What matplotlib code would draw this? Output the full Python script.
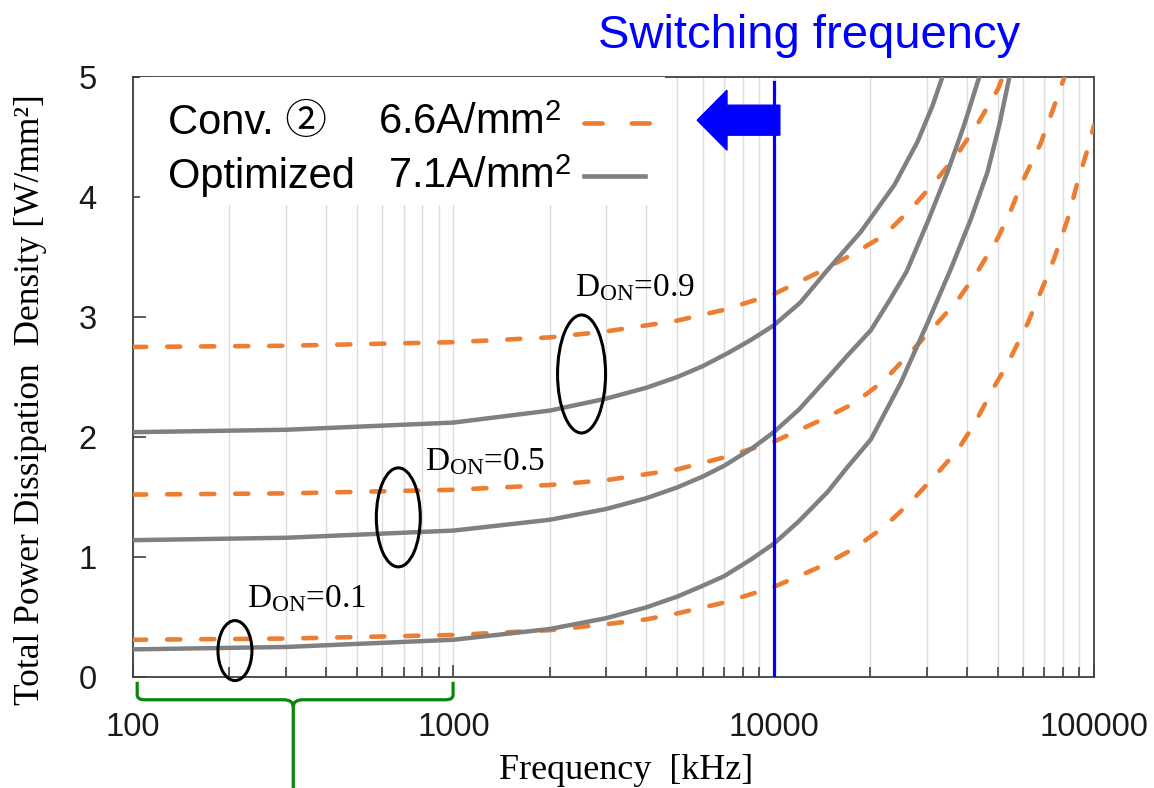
import numpy as np
import matplotlib
matplotlib.use('Agg')
import matplotlib.pyplot as plt
from matplotlib.patches import Ellipse, FancyArrow, PathPatch, Rectangle
from matplotlib.path import Path
from matplotlib.lines import Line2D
from matplotlib.ticker import FixedLocator, LogLocator, NullFormatter

plt.rcParams['font.family'] = ['Liberation Sans', 'Noto Sans CJK JP', 'DejaVu Sans']
plt.rcParams['mathtext.fontset'] = 'custom'
plt.rcParams['mathtext.rm'] = 'Liberation Serif'
plt.rcParams['mathtext.it'] = 'Liberation Serif:italic'
plt.rcParams['mathtext.sf'] = 'Liberation Sans'
plt.rcParams['lines.scale_dashes'] = False

# frequency [kHz] / power density [W/mm2], conventional design
conv_09_f = [100, 300, 1000, 2000, 3000, 4000, 5000, 7000, 10000, 14000, 17800,
             22100, 26800, 31700, 37500, 43300, 50100, 51900]
conv_09_p = [2.75, 2.76, 2.79, 2.83, 2.88, 2.93, 2.97, 3.06, 3.19, 3.38, 3.53,
             3.68, 3.90, 4.12, 4.36, 4.61, 4.90, 5.00]
conv_05_f = [100, 300, 1000, 2000, 3000, 4000, 5000, 7000, 10000, 14000, 17800, 22100,
             26200, 31700, 37500, 43300, 50100, 55000, 59100, 68200, 75100, 80800]
conv_05_p = [1.52, 1.53, 1.56, 1.60, 1.64, 1.69, 1.73, 1.83, 1.96, 2.14, 2.28, 2.47,
             2.68, 2.92, 3.14, 3.38, 3.66, 3.89, 4.10, 4.45, 4.76, 5.00]
conv_01_f = [100, 300, 1000, 2000, 3000, 4000, 5000, 7000, 10000, 14000, 17800, 22100,
             26800, 31700, 37500, 42300, 48800, 53700, 62100, 69900, 75100, 82800,
             88900, 95500, 100000]
conv_01_p = [0.31, 0.32, 0.35, 0.39, 0.44, 0.48, 0.53, 0.62, 0.75, 0.92, 1.07, 1.25,
             1.46, 1.67, 1.89, 2.11, 2.42, 2.61, 2.95, 3.28, 3.49, 3.82,
             4.13, 4.40, 4.60]

# optimized design
opt_09_f = [100, 300, 1000, 2000, 3000, 4000, 5000, 6000, 7200, 8500, 10000, 12100,
            14700, 18700, 23800, 28100, 31300, 33600]
opt_09_p = [2.04, 2.06, 2.12, 2.22, 2.32, 2.41, 2.50, 2.59, 2.70, 2.81, 2.93, 3.12,
            3.39, 3.71, 4.10, 4.46, 4.76, 5.00]
opt_05_f = [100, 300, 1000, 2000, 3000, 4000, 5000, 6000, 7000, 8500, 10000, 12000,
            14700, 17000, 20100, 23000, 26000, 30200, 34900, 39300, 43800]
opt_05_p = [1.14, 1.16, 1.22, 1.31, 1.40, 1.49, 1.58, 1.67, 1.76, 1.90, 2.04, 2.23,
            2.49, 2.68, 2.89, 3.14, 3.38, 3.79, 4.21, 4.60, 5.00]
opt_01_f = [100, 300, 1000, 2000, 3000, 4000, 5000, 6000, 7000, 8500, 10000, 12000,
            14700, 17000, 20100, 24900, 30200, 35700, 41300, 46500, 50600, 54400]
opt_01_p = [0.23, 0.25, 0.31, 0.40, 0.49, 0.58, 0.67, 0.76, 0.84, 0.98, 1.11, 1.30,
            1.54, 1.75, 1.98, 2.45, 2.95, 3.40, 3.82, 4.21, 4.60, 5.00]

duty_labels = ['0.9', '0.5', '0.1']
label_f = [2400, 816, 227]
label_p = [3.17, 1.725, 0.583]
ring_f = [2512, 673, 208]
ring_p = [2.525, 1.33, 0.22]
ring_w = [48, 44, 34]      # px
ring_h = [118, 99, 60]     # px

f_switch = 10000
xticks = [100, 1000, 10000, 100000]
yticks = [0, 1, 2, 3, 4, 5]

orange = '#ED7D31'
gray = '#808080'
blue = '#0000FF'
serif = 'Liberation Serif'

fig = plt.figure(figsize=(11.54, 7.88), dpi=100)
ax = fig.add_axes([0.1153, 0.1409, 0.8328, 0.7614])
ax.set_xscale('log')
ax.set_xlim(100, 100000)
ax.set_ylim(0, 5)

dash = (9.5, 15)
for f, p in [(conv_09_f, conv_09_p), (conv_05_f, conv_05_p), (conv_01_f, conv_01_p)]:
    ax.plot(f, p, color=orange, lw=3.3, dashes=dash, dash_capstyle='round', zorder=3)
for f, p in [(opt_09_f, opt_09_p), (opt_05_f, opt_05_p), (opt_01_f, opt_01_p)]:
    ax.plot(f, p, color=gray, lw=3.2, zorder=3)

# switching frequency marker
ax.axvline(f_switch, ymin=0, ymax=0.992, color=blue, lw=2.3, zorder=4)
ax.add_patch(FancyArrow(0.673, 0.928, -0.086, 0, width=0.05, head_width=0.10,
                        head_length=0.031, length_includes_head=True,
                        color=blue, transform=ax.transAxes, zorder=8))
fig.text(0.7015, 0.939, 'Switching frequency', color=blue, fontsize=34,
         ha='center', va='baseline')

# duty-cycle groups
for i in range(3):
    cx = (np.log10(ring_f[i]) - 2) / 3
    cy = ring_p[i] / 5
    ax.add_patch(Ellipse((cx, cy), ring_w[i] / 961, ring_h[i] / 600, fill=False,
                         ec='black', lw=2.2, transform=ax.transAxes, clip_on=False, zorder=5))
    ax.text(label_f[i], label_p[i], r'$\mathrm{D_{ON}}$=' + duty_labels[i],
            family=serif, fontsize=24, ha='left', va='baseline', zorder=5)

# axes styling
ax.xaxis.set_major_locator(FixedLocator(xticks))
ax.set_xticklabels([str(t) for t in xticks])
ax.xaxis.set_minor_locator(LogLocator(base=10, subs=np.arange(2, 10)))
ax.xaxis.set_minor_formatter(NullFormatter())
ax.set_yticks(yticks)
ax.tick_params(axis='both', which='major', direction='in', length=9, width=1.2,
               color='#404040', labelsize=23.5, labelcolor='#1a1a1a')
ax.tick_params(axis='x', which='major', pad=25)
ax.tick_params(axis='y', which='major', pad=26)
ax.tick_params(axis='x', which='minor', direction='in', length=7, width=1.2, color='#404040')
ax.xaxis.grid(True, which='both', color='#dcdcdc', lw=1.0)
ax.set_axisbelow(True)
for s in ax.spines.values():
    s.set_color('#404040')
    s.set_linewidth(1.3)

ax.set_xlabel('Frequency  [kHz]', family=serif, fontsize=26)
ax.xaxis.set_label_coords(0.513, -0.128)
ax.set_ylabel('Total Power Dissipation  Density [W/mm²]', family=serif, fontsize=25.5)
ax.yaxis.set_label_coords(-0.090, 0.462)

# bracket under the 100-1000 kHz decade
xl, xc, xr = 0.0043, 0.1667, 0.333
yt, yh, yb = -0.008, -0.038, -0.19
verts = [(xl, yt), (xl, yh + 0.008), (xl, yh), (xl + 0.008, yh), (xc - 0.01, yh),
         (xc, yh), (xc, yh - 0.012), (xc, yb),
         (xc, yh - 0.012), (xc, yh), (xc + 0.01, yh), (xr - 0.008, yh),
         (xr, yh), (xr, yh + 0.008), (xr, yt)]
codes = [Path.MOVETO, Path.LINETO, Path.CURVE3, Path.CURVE3, Path.LINETO,
         Path.CURVE3, Path.CURVE3, Path.LINETO,
         Path.MOVETO, Path.CURVE3, Path.CURVE3, Path.LINETO,
         Path.CURVE3, Path.CURVE3, Path.LINETO]
ax.add_patch(PathPatch(Path(verts, codes), fill=False, ec='#0a870a', lw=2.3,
                       transform=ax.transAxes, clip_on=False))

# legend block (text left-aligned, line sample on the right)
ax.add_patch(Rectangle((0.0073, 0.787), 0.546, 0.213, fc='white', ec='none',
                       transform=ax.transAxes, zorder=6))
leg_rows = [('Conv. ②', r'6.6A/mm$^{\mathsf{2}}$', 0.255, 0.905, 0.923, orange, (13, 21), 0.543),
            ('Optimized', r'7.1A/mm$^{\mathsf{2}}$', 0.265, 0.815, 0.835, gray, None, 0.533)]
for name, dens, xd, yb_, yl, c, ds, x_end in leg_rows:
    ax.text(0.036, yb_, name, fontsize=30, ha='left', va='baseline',
            transform=ax.transAxes, zorder=7)
    ax.text(xd, yb_, dens, fontsize=30, ha='left', va='baseline',
            transform=ax.transAxes, zorder=7)
    ln = Line2D([0.469, x_end], [yl, yl], color=c, lw=3.3, transform=ax.transAxes, zorder=7)
    if ds is not None:
        ln.set_dashes(ds)
        ln.set_dash_capstyle('round')
    ax.add_line(ln)

fig.savefig('out.png', dpi=100, facecolor='white')
